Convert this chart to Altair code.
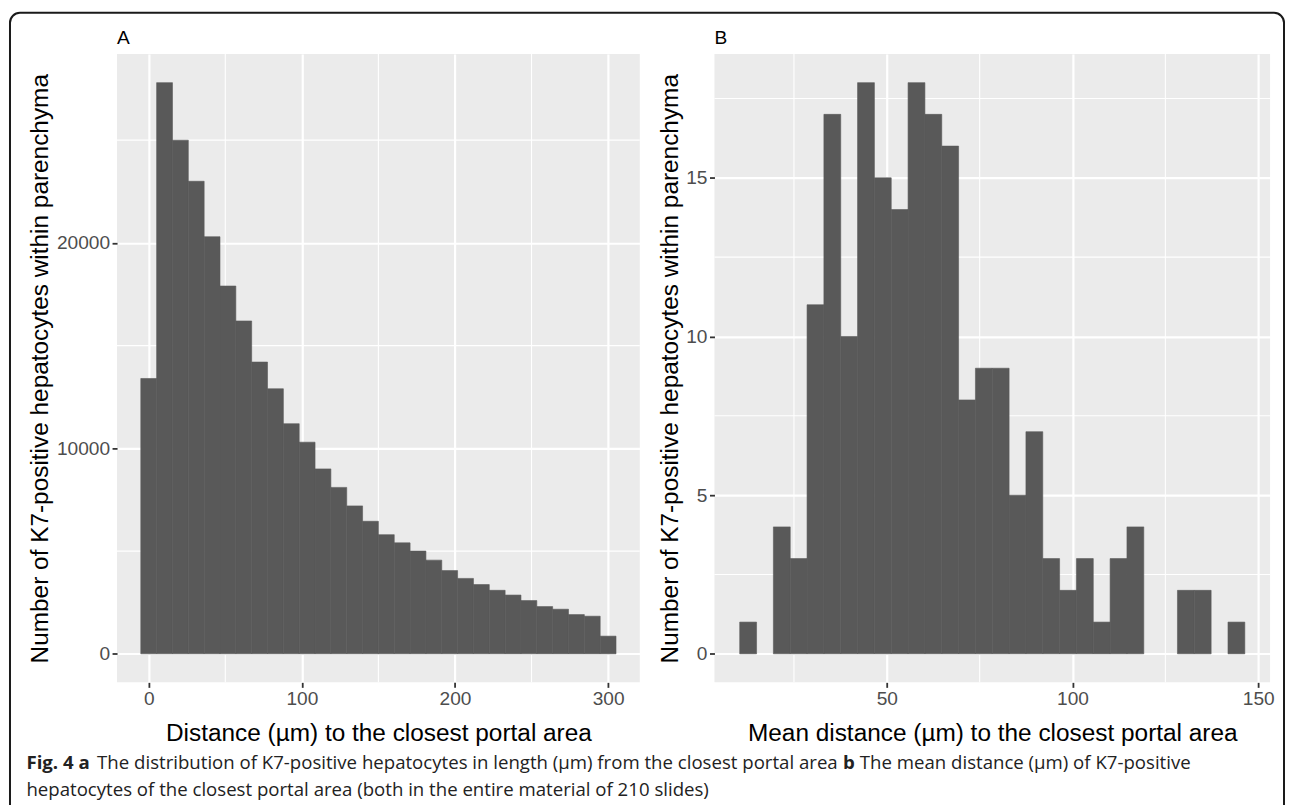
import altair as alt
import pandas as pd

# ---------------- data ----------------
A_BIN_START = -5.172
A_BIN_WIDTH = 10.345
A_COUNTS = [13400, 27800, 25000, 23000, 20300, 17900, 16200, 14200, 12900, 11200,
            10300, 9000, 8100, 7200, 6450, 5800, 5400, 5000, 4560, 4050,
            3670, 3370, 3090, 2860, 2590, 2300, 2170, 1910, 1830, 860]

B_BIN_START = 10.4
B_BIN_WIDTH = 4.533
B_COUNTS = [1, 0, 4, 3, 11, 17, 10, 18, 15, 14,
            18, 17, 16, 8, 9, 9, 5, 7, 3, 2,
            3, 1, 3, 4, 0, 0, 2, 2, 0, 1]

A_XTICKS = [0, 100, 200, 300]
A_XMINOR = [50, 150, 250]
A_YTICKS = [0, 10000, 20000]
A_YMINOR = [5000, 15000, 25000]
B_XTICKS = [50, 100, 150]
B_XMINOR = [25, 75, 125]
B_YTICKS = [0, 5, 10, 15]
B_YMINOR = [2.5, 7.5, 12.5, 17.5]

X_TITLE_A = "Distance (µm) to the closest portal area"
X_TITLE_B = "Mean distance (µm) to the closest portal area"
Y_TITLE = "Number of K7-positive hepatocytes within parenchyma"

CAP_1A = "Fig. 4 a"
CAP_1B = "The distribution of K7-positive hepatocytes in length (µm) from the closest portal area"
CAP_1C = "b"
CAP_1D = "The mean distance (µm) of K7-positive"
CAP_2 = "hepatocytes of the closest portal area (both in the entire material of 210 slides)"

# ---------------- style ----------------
AX_FONT = "Liberation Sans"
CAP_FONT = "Open Sans"
BAR = "#595959"
W_A, W_B, H = 525, 558, 631
LABEL_SIZE = 19.2
TITLE_SIZE = 24.5


def panel(counts, start, width, xticks, xminor, yticks, yminor, xtitle,
          ytitle_x, letter, w, extra=None):
    n = len(counts)
    df = pd.DataFrame({
        "x0": [start + i * width for i in range(n)],
        "x1": [start + (i + 1) * width for i in range(n)],
        "n": counts,
    })
    df = df[df["n"] > 0]
    xmin, xmax = start, start + n * width
    xp = 0.05 * (xmax - xmin)
    ymax = max(counts)
    xscale = alt.Scale(domain=[xmin - xp, xmax + xp], nice=False, zero=False)
    yscale = alt.Scale(domain=[-0.05 * ymax, 1.05 * ymax], nice=False, zero=False)

    xaxis = alt.Axis(values=xticks, title=xtitle, labelPadding=2.5, titleY=58,
                     titleBaseline="alphabetic", format="d",
                     labelFontSize=LABEL_SIZE, titleFontSize=TITLE_SIZE)
    yaxis = alt.Axis(values=yticks, title=Y_TITLE, labelPadding=2.5, titleX=ytitle_x,
                     titleY=H / 2, titleAngle=270, titleAlign="center",
                     titleBaseline="alphabetic", format="d",
                     labelFontSize=LABEL_SIZE, titleFontSize=TITLE_SIZE)

    vminor = alt.Chart(pd.DataFrame({"v": xminor})).mark_rule(
        color="white", strokeWidth=1.1).encode(
        x=alt.X("v:Q", scale=xscale, axis=xaxis))
    hminor = alt.Chart(pd.DataFrame({"v": yminor})).mark_rule(
        color="white", strokeWidth=1.1).encode(
        y=alt.Y("v:Q", scale=yscale, axis=yaxis))
    bars = alt.Chart(df).mark_rect(color=BAR, stroke=BAR, strokeWidth=0.6).encode(
        x=alt.X("x0:Q", scale=xscale, axis=xaxis),
        x2="x1:Q",
        y=alt.Y("n:Q", scale=yscale, axis=yaxis),
        y2=alt.datum(0),
    )
    lab = alt.Chart(pd.DataFrame({"t": [letter]})).mark_text(
        align="left", baseline="alphabetic", font=AX_FONT, fontSize=19.2,
        color="black").encode(x=alt.value(0), y=alt.value(-10), text="t:N")
    layers = [vminor, hminor, bars, lab] + (extra or [])
    return alt.layer(*layers).properties(width=w, height=H)


one = pd.DataFrame({"a": [0]})
border = alt.Chart(one).mark_rect(
    fillOpacity=0, stroke="#1a1a1a", strokeWidth=2, cornerRadius=10).encode(
    x=alt.value(-107.5), x2=alt.value(1172), y=alt.value(-41.5), y2=alt.value(780))

CAP_SIZE = 18.7


def cap(text, x, y, bold=False):
    return alt.Chart(pd.DataFrame({"t": [text]})).mark_text(
        align="left", baseline="alphabetic", font=CAP_FONT, fontSize=CAP_SIZE,
        fontWeight="bold" if bold else "normal", color="#222222").encode(
        x=alt.value(x), y=alt.value(y), text="t:N")


captions = [
    cap(CAP_1A, -91, 718, True),
    cap(CAP_1B, -20, 718),
    cap(CAP_1C, 729, 718, True),
    cap(CAP_1D, 746, 718),
    cap(CAP_2, -91, 745),
]

pA = panel(A_COUNTS, A_BIN_START, A_BIN_WIDTH, A_XTICKS, A_XMINOR, A_YTICKS, A_YMINOR,
           X_TITLE_A, -70, "A", W_A, extra=[border] + captions)
pB = panel(B_COUNTS, B_BIN_START, B_BIN_WIDTH, B_XTICKS, B_XMINOR, B_YTICKS, B_YMINOR,
           X_TITLE_B, -37, "B", W_B)

chart = alt.hconcat(pA, pB, spacing=75, bounds="flush").properties(
    padding={"left": 0.5, "top": 1.5, "right": 0, "bottom": 0},
    background="white",
).configure_view(
    fill="#EBEBEB", strokeWidth=0
).configure_axis(
    grid=True, gridColor="white", gridWidth=2.2, domain=False,
    tickColor="#333333", tickWidth=1.8, tickSize=5,
    labelFont=AX_FONT, labelFontSize=LABEL_SIZE, labelColor="#4D4D4D",
    titleFont=AX_FONT, titleFontSize=TITLE_SIZE, titleColor="black",
    titleFontWeight="normal",
)

chart.save("out.html", embed_options={"renderer": "svg", "actions": False})
